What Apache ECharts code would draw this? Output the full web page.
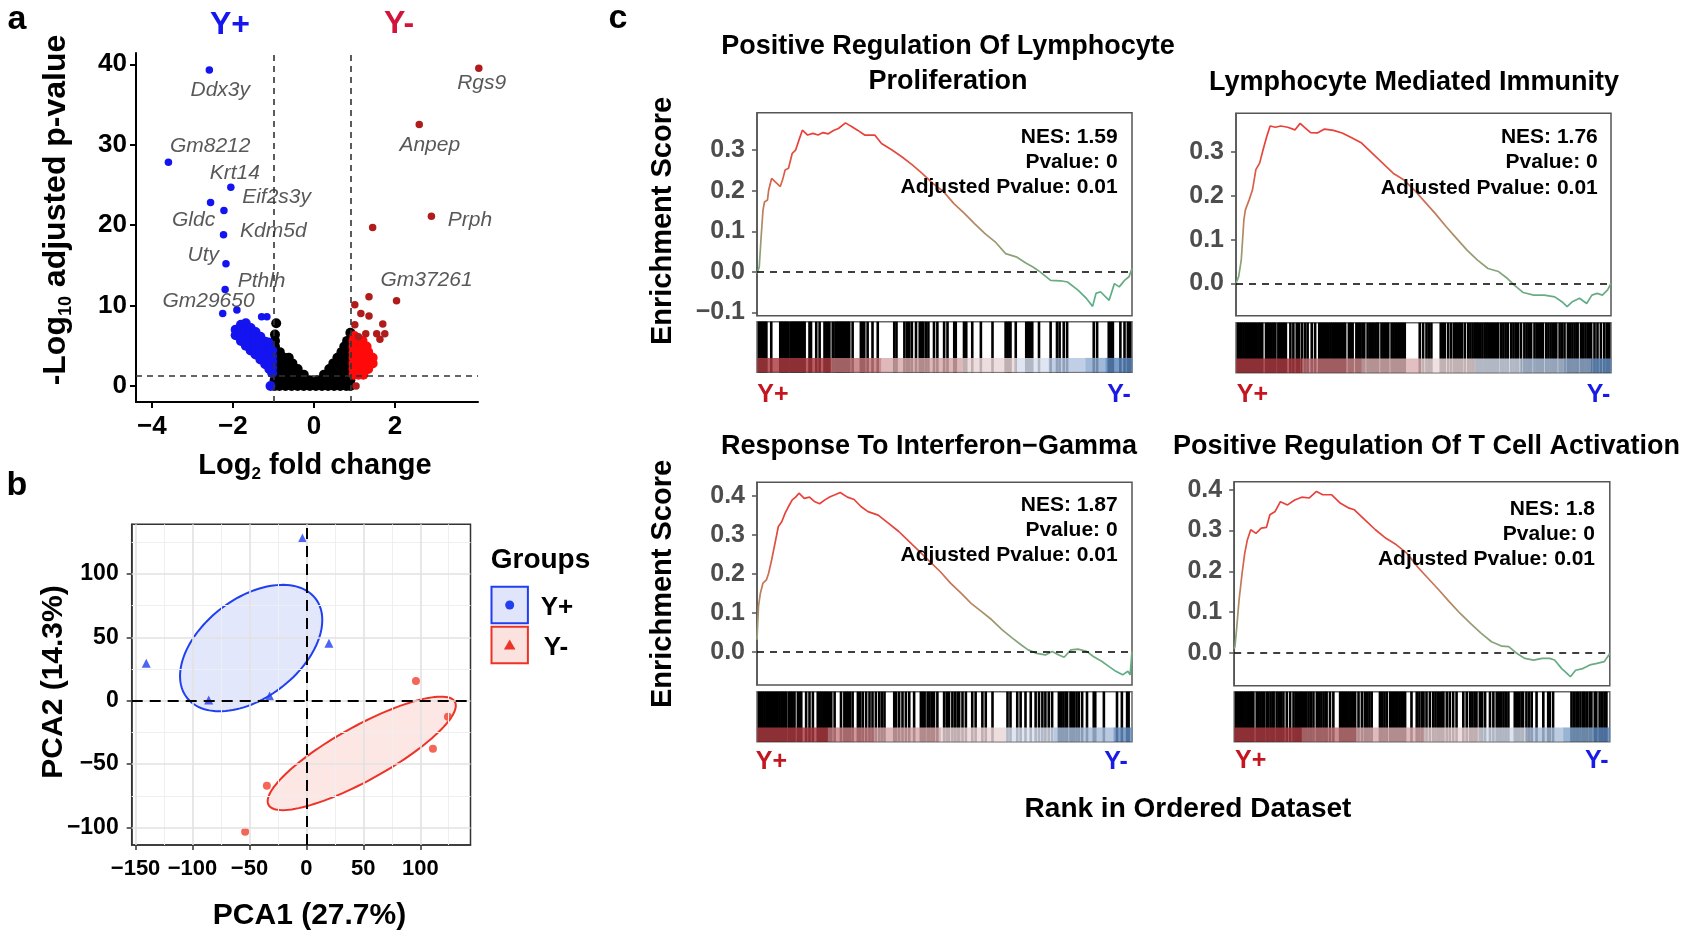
<!DOCTYPE html>
<html><head><meta charset="utf-8">
<script src="https://cdn.jsdelivr.net/npm/echarts@6/dist/echarts.min.js"></script>
<style>html,body{margin:0;padding:0;background:#fff}#c{width:1691px;height:938px}</style>
</head><body><div id="c"></div>
<script>
const FONT = '"Liberation Sans", Arial, Helvetica, sans-serif';

// ---------------- Panel a : volcano ----------------
const volcanoXTicks = [-4, -2, 0, 2];
const volcanoYTicks = [0, 10, 20, 30, 40];
const fcCutLeft = -1.0, fcCutRight = 0.92, padjCut = 1.3;
const volcanoNS = [
 [-0.97,0],[-0.85,0],[-0.7,0],[-0.55,0],[-0.4,0],[-0.25,0],[-0.1,0],[0.05,0],[0.2,0],[0.35,0],[0.5,0],[0.65,0],[0.8,0],[0.9,0],
 [-0.97,0.7],[-0.85,0.7],[-0.7,0.7],[-0.55,0.7],[-0.4,0.7],[-0.25,0.7],[-0.1,0.7],[0.1,0.7],[0.25,0.7],[0.4,0.7],[0.55,0.7],[0.7,0.7],[0.82,0.7],[0.9,0.7],
 [-0.97,1.4],[-0.85,1.4],[-0.7,1.4],[-0.55,1.4],[-0.4,1.4],[-0.25,1.4],[0.25,1.4],[0.4,1.4],[0.55,1.4],[0.7,1.4],[0.82,1.4],[0.9,1.4],
 [-0.97,2.1],[-0.85,2.1],[-0.7,2.1],[-0.55,2.1],[-0.4,2.1],[0.38,2.1],[0.52,2.1],[0.66,2.1],[0.8,2.1],[0.9,2.1],
 [-0.97,2.8],[-0.85,2.8],[-0.7,2.8],[-0.53,2.8],[0.48,2.8],[0.62,2.8],[0.76,2.8],[0.9,2.8],
 [-0.97,3.5],[-0.86,3.5],[-0.73,3.5],[-0.62,3.5],[0.58,3.5],[0.72,3.5],[0.86,3.5],
 [-0.96,4.2],[-0.84,4.2],[0.68,4.2],[0.8,4.2],[0.9,4.2],
 [-0.96,4.9],[0.75,4.9],[0.88,4.9],
 [-0.96,5.6],[0.82,5.6],[0.9,5.6],
 [-0.96,6.4],[-0.93,7.8],[0.9,6.6]
];
const volcanoUpCloud = [
 [-1.93,6.3],[-1.93,7.0],
 [-1.8,5.6],[-1.8,6.3],[-1.8,7.0],[-1.8,7.6],
 [-1.68,5.0],[-1.68,5.7],[-1.68,6.4],[-1.68,7.1],[-1.68,7.8],
 [-1.56,4.4],[-1.56,5.1],[-1.56,5.8],[-1.56,6.5],[-1.56,7.2],
 [-1.44,3.9],[-1.44,4.6],[-1.44,5.3],[-1.44,6.0],[-1.44,6.7],
 [-1.32,3.3],[-1.32,4.0],[-1.32,4.7],[-1.32,5.4],[-1.32,6.1],
 [-1.2,2.7],[-1.2,3.4],[-1.2,4.1],[-1.2,4.8],[-1.2,5.5],
 [-1.1,2.1],[-1.1,2.8],[-1.1,3.5],[-1.1,4.2],[-1.1,4.9],
 [-1.03,1.6],[-1.03,2.3],[-1.03,3.0],[-1.03,3.7],[-1.03,4.4],
 [-1.07,0],[-1.12,5.4]
];
const volcanoUpTop = [[-2.58,39.3],[-3.59,27.8],[-2.05,24.7],[-2.55,22.8],[-2.22,21.8],[-2.23,18.8],[-2.17,15.2],[-2.19,12.0],[-2.25,9.0],[-1.90,9.45],[-1.29,8.6],[-1.16,8.6]];
const volcanoDownCloud = [
 [0.98,1.4],[1.1,1.4],[1.22,1.4],
 [0.98,2.1],[1.1,2.1],[1.22,2.1],[1.34,2.1],
 [0.98,2.8],[1.1,2.8],[1.22,2.8],[1.34,2.8],[1.45,2.8],
 [0.98,3.5],[1.1,3.5],[1.22,3.5],[1.34,3.5],[1.45,3.5],
 [0.98,4.2],[1.1,4.2],[1.22,4.2],[1.34,4.2],
 [0.98,4.9],[1.1,4.9],[1.22,4.9],[1.3,4.9],
 [0.98,5.6],[1.1,5.6],[1.2,5.6],
 [1.0,6.2]
];
const volcanoDownTop = [[4.07,39.5],[2.60,32.5],[2.90,21.1],[1.45,19.7],[2.04,10.6],[1.36,11.1],[1.01,10.1],[1.16,9.0],[1.36,8.7],[1.01,7.6],[1.70,7.7],[1.55,6.5],[1.75,6.5],[1.63,5.8],[1.28,6.5],[1.10,6.1],[1.04,0]];
const volcanoGeneLabels = [[-2.31,36.8,'Ddx3y'],[-2.56,29.8,'Gm8212'],[-1.95,26.5,'Krt14'],[-0.92,23.5,'Eif2s3y'],[-2.97,20.6,'Gldc'],[-1.0,19.2,'Kdm5d'],[-2.73,16.3,'Uty'],[-1.29,13.0,'Pthlh'],[-2.60,10.5,'Gm29650'],[4.14,37.7,'Rgs9'],[2.86,30.0,'Anpep'],[3.85,20.6,'Prph'],[2.78,13.1,'Gm37261']];

// ---------------- Panel b : PCA ----------------
const pcaXTicks = [-150, -100, -50, 0, 50, 100];
const pcaYTicks = [-100, -50, 0, 50, 100];
const pcaXMinor = [-125, -75, -25, 25, 75, 125];
const pcaYMinor = [-75, -25, 25, 75, 125];
const pcaYplus = [[-3.5,128.2],[19.8,45.3],[-140.6,29.5],[-85.8,0.5],[-32.3,3.7]];
const pcaYminus = [[96.2,15.5],[124.3,-12.6],[111.1,-37.9],[-34.7,-67.1],[-53.8,-103.4]];
const ellipseYplus = [-48.5, 41.5, 3900, 1381, 2485];   // cx, cy, var x, cov xy, var y
const ellipseYminus = [48.6, -41.55, 6823, 3110, 2003];

// ---------------- Panel c : GSEA ----------------
const gseaTitles = [['Positive Regulation Of Lymphocyte','Proliferation'],['Lymphocyte Mediated Immunity'],['Response To Interferon\u2212Gamma'],['Positive Regulation Of T Cell Activation']];
const gseaNES = ['1.59','1.76','1.87','1.8'];
const gseaPvalue = ['0','0','0','0'];
const gseaAdjPvalue = ['0.01','0.01','0.01','0.01'];
const esTicks = [[-0.1,0,0.1,0.2,0.3],[0,0.1,0.2,0.3],[0,0.1,0.2,0.3,0.4],[0,0.1,0.2,0.3,0.4]];

const gseaES1 = [[0,-0.004],[6,0.012],[11,0.086],[16,0.152],[20,0.172],[28,0.177],[31,0.201],[39,0.230],[48,0.222],[62,0.21],[68,0.226],[75,0.251],[84,0.255],[94,0.292],[103,0.30],[112,0.325],[121,0.349],[135,0.337],[149,0.341],[163,0.337],[176,0.343],[190,0.340],[204,0.348],[217,0.353],[236,0.367],[250,0.359],[268,0.349],[287,0.337],[314,0.337],[332,0.316],[360,0.30],[387,0.283],[415,0.263],[441,0.242],[469,0.218],[498,0.197],[525,0.168],[553,0.144],[580,0.119],[608,0.094],[635,0.074],[663,0.045],[691,0.037],[718,0.021],[736,0.012],[755,0.0],[783,-0.021],[810,-0.022],[828,-0.025],[856,-0.045],[879,-0.066],[895,-0.085],[904,-0.053],[916,-0.049],[939,-0.07],[953,-0.029],[966,-0.037],[980,-0.021],[992,-0.012],[1000,0.008]];
const gseaES2 = [[0,0],[7,0.015],[14,0.053],[21,0.145],[25,0.168],[35,0.191],[44,0.214],[53,0.26],[63,0.275],[72,0.305],[82,0.336],[91,0.36],[105,0.357],[119,0.36],[138,0.357],[157,0.351],[171,0.366],[185,0.355],[199,0.345],[217,0.344],[236,0.353],[260,0.35],[283,0.344],[306,0.334],[335,0.321],[363,0.298],[391,0.275],[419,0.252],[447,0.237],[475,0.214],[503,0.187],[531,0.160],[560,0.130],[588,0.103],[616,0.076],[644,0.053],[672,0.034],[700,0.027],[724,0.011],[742,-0.004],[766,-0.021],[794,-0.027],[822,-0.027],[850,-0.031],[869,-0.042],[883,-0.053],[897,-0.042],[916,-0.034],[935,-0.046],[949,-0.027],[963,-0.023],[977,-0.027],[991,-0.015],[1000,0.0]];
const gseaES3 = [[0,0.032],[4,0.117],[9,0.151],[16,0.177],[25,0.185],[31,0.202],[39,0.236],[48,0.279],[57,0.322],[66,0.334],[75,0.356],[84,0.373],[94,0.39],[103,0.397],[112,0.407],[126,0.394],[140,0.397],[153,0.386],[167,0.380],[181,0.39],[195,0.398],[208,0.403],[222,0.409],[241,0.397],[259,0.391],[277,0.373],[296,0.36],[323,0.351],[351,0.33],[378,0.309],[406,0.283],[433,0.258],[461,0.232],[489,0.206],[516,0.177],[544,0.151],[571,0.125],[599,0.104],[626,0.083],[654,0.057],[681,0.036],[704,0.019],[723,0.006],[746,-0.003],[769,-0.007],[787,0.002],[805,-0.007],[819,-0.013],[837,0.006],[856,0.008],[879,0.002],[897,-0.011],[920,-0.024],[939,-0.037],[957,-0.049],[975,-0.058],[989,-0.049],[995,-0.058],[1000,0.002]];
const gseaES4 = [[0,0.01],[2,0.015],[7,0.064],[13,0.13],[21,0.195],[28,0.244],[35,0.277],[44,0.302],[58,0.293],[72,0.306],[86,0.308],[95,0.339],[109,0.347],[123,0.371],[142,0.363],[161,0.375],[180,0.382],[200,0.38],[219,0.396],[236,0.388],[259,0.388],[283,0.367],[306,0.355],[320,0.351],[348,0.326],[376,0.302],[404,0.281],[432,0.265],[460,0.244],[488,0.211],[516,0.183],[545,0.154],[573,0.125],[601,0.097],[629,0.072],[657,0.048],[685,0.027],[713,0.016],[731,0.015],[750,0.0],[774,-0.014],[797,-0.018],[820,-0.014],[840,-0.014],[853,-0.018],[872,-0.039],[886,-0.051],[895,-0.059],[909,-0.043],[928,-0.039],[947,-0.03],[966,-0.026],[985,-0.022],[1000,-0.002]];

const gseaHits1 = [5,9,13,17,21,25,38,62,66,70,74,78,82,89,93,97,101,105,109,113,117,121,125,127,140,144,158,167,180,185,189,193,202,209,213,217,221,225,229,233,238,242,246,255,277,281,286,295,308,322,366,372,393,400,406,413,424,434,439,443,450,457,472,481,499,508,526,530,552,558,574,597,628,663,668,673,676,690,718,723,728,734,752,783,800,807,818,827,898,907,938,944,949,969,980,989,995];
const gseaHits2 = [5,10,15,20,25,30,35,40,45,50,55,60,65,70,80,85,90,95,100,105,113,118,123,128,133,145,153,162,168,176,184,191,202,211,222,227,232,237,242,247,252,257,262,267,272,277,282,287,291,301,306,311,321,326,331,337,342,351,357,362,367,372,377,379,388,393,398,403,406,415,420,425,430,435,440,445,450,490,499,508,514,521,546,552,557,566,574,582,587,592,597,602,610,619,625,631,637,641,645,651,657,663,668,673,678,683,688,694,699,707,713,719,725,734,740,746,752,760,769,775,781,787,796,802,808,814,818,827,833,839,845,851,854,863,869,876,885,891,897,903,909,911,920,926,932,938,944,947,956,964,973,982,989,995];
const gseaHits3 = [5,10,15,20,25,30,35,40,45,50,55,60,65,69,74,78,85,90,95,100,109,115,118,131,140,149,162,167,172,177,182,187,192,198,207,224,233,238,243,248,255,269,275,282,291,300,308,317,326,333,340,366,371,379,388,397,406,419,437,442,447,455,460,466,472,481,499,506,512,521,528,535,539,548,557,574,583,601,610,628,668,676,694,703,716,730,743,752,761,769,778,787,805,811,817,823,827,836,840,845,852,858,867,880,898,902,925,960,973,987,991];
const gseaHits4 = [5,10,15,20,25,30,35,40,45,47,51,60,65,70,75,80,87,91,97,103,105,113,119,125,131,140,149,158,164,170,176,180,186,192,198,204,211,220,226,232,238,244,246,255,264,282,287,292,297,302,307,312,317,322,331,340,348,354,360,366,388,394,400,406,415,420,425,430,435,440,445,450,455,472,486,493,500,504,512,521,530,536,542,548,554,557,566,574,583,592,610,619,628,634,640,645,654,660,668,681,690,699,705,711,717,723,730,747,753,759,765,769,778,785,792,805,823,836,840,849,898,904,911,916,922,929,933,940,947,951,960,964,973,980,986,991];

// ranked-list metric strips: [startRank, endRank, metric]
const gseaRank1 = [[0,198,0.9],[198,331,0.6],[331,548,0.35],[548,690,0.12],[690,778,-0.1],[778,876,-0.3],[876,929,-0.5],[929,1000,-0.75]];
const gseaRank2 = [[0,176,0.9],[176,295,0.62],[295,335,0.5],[335,495,0.3],[495,637,0.1],[637,761,-0.1],[761,876,-0.28],[876,947,-0.45],[947,1000,-0.7]];
const gseaRank3 = [[0,189,0.9],[189,313,0.55],[313,490,0.35],[490,663,0.12],[663,792,-0.1],[792,951,-0.35],[951,1000,-0.7]];
const gseaRank4 = [[0,180,0.9],[180,326,0.6],[326,504,0.33],[504,654,0.12],[654,778,-0.12],[778,876,-0.33],[876,956,-0.55],[956,1000,-0.75]];

// ---------------- build ----------------
const minusFmt = d => v => (v < 0 ? '\u2212' : '') + Math.abs(v).toFixed(d);
const grids = [], xAxes = [], yAxes = [], series = [], visualMaps = [], graphics = [];

function valAxis(gi, min, max, ticks, opts) {
  opts = opts || {};
  return {
    type: 'value', gridIndex: gi, min: min, max: max,
    axisLine: {show: true, onZero: false, lineStyle: {color: opts.lineColor || '#000', width: opts.lineWidth || 2}},
    axisTick: {show: true, length: opts.tickLen || 6, customValues: ticks, lineStyle: {color: opts.tickColor || '#000', width: opts.tickWidth || 2}},
    axisLabel: {show: true, customValues: ticks, formatter: minusFmt(opts.dec || 0), fontFamily: FONT, fontWeight: 'bold',
      fontSize: opts.fontSize || 24, color: opts.labelColor || '#000', margin: opts.margin || 10},
    splitLine: {show: false}
  };
}

// ---- volcano
grids.push({left: 136, top: 53, width: 342, height: 349});
xAxes.push(valAxis(0, -4.39, 4.05, volcanoXTicks, {fontSize: 26, margin: 12, tickLen: 6}));
yAxes.push(valAxis(0, -2, 41.4, volcanoYTicks, {fontSize: 26, margin: 9, tickLen: 6}));
series.push({type: 'scatter', xAxisIndex: 0, yAxisIndex: 0, data: [], z: 1, silent: true,
  markLine: {silent: true, symbol: 'none', label: {show: false},
    lineStyle: {type: [6, 5], color: '#333', width: 1.6},
    data: [{xAxis: fcCutLeft}, {xAxis: fcCutRight}, {yAxis: padjCut}]}});
const volStyle = (data, color, size, z) => ({type: 'scatter', xAxisIndex: 0, yAxisIndex: 0, data: data, symbolSize: size,
  itemStyle: {color: color, opacity: 1}, z: z, clip: false, silent: true});
series.push(volStyle(volcanoNS, '#000000', 10, 2));
series.push(volStyle(volcanoUpCloud, '#1414f0', 10, 3));
series.push(volStyle(volcanoUpTop, '#1414f0', 7.5, 3));
series.push(volStyle(volcanoDownCloud, '#ff0a0a', 10, 3));
series.push(volStyle(volcanoDownTop, '#b01c1c', 7.5, 4));
series.push({type: 'scatter', xAxisIndex: 0, yAxisIndex: 0, data: volcanoGeneLabels, symbolSize: 1, clip: false, silent: true, z: 5,
  itemStyle: {color: 'rgba(0,0,0,0)'},
  label: {show: true, position: 'inside', formatter: p => p.data[2], fontFamily: FONT, fontStyle: 'italic', fontSize: 21, color: '#2e2e2e'}});

// ---- PCA
grids.push({left: 131.7, top: 524.3, width: 338.8, height: 320.7, show: true, borderColor: '#333', borderWidth: 1.5, backgroundColor: 'transparent'});
xAxes.push(valAxis(1, -153.4, 144.1, pcaXTicks, {fontSize: 22, margin: 13, tickLen: 5, lineWidth: 1.5, lineColor: '#333', tickColor: '#333', tickWidth: 1.5}));
yAxes.push(valAxis(1, -113.8, 139.1, pcaYTicks, {fontSize: 23, margin: 13, tickLen: 5, lineWidth: 1.5, lineColor: '#333', tickColor: '#333', tickWidth: 1.5}));
const gl = [];
pcaXMinor.forEach(v => gl.push({xAxis: v, lineStyle: {color: '#efefef', width: 1, type: 'solid'}}));
pcaYMinor.forEach(v => gl.push({yAxis: v, lineStyle: {color: '#efefef', width: 1, type: 'solid'}}));
pcaXTicks.forEach(v => gl.push({xAxis: v, lineStyle: {color: '#e2e2e2', width: 1.6, type: 'solid'}}));
pcaYTicks.forEach(v => gl.push({yAxis: v, lineStyle: {color: '#e2e2e2', width: 1.6, type: 'solid'}}));
series.push({type: 'scatter', xAxisIndex: 1, yAxisIndex: 1, data: [], z: 0, silent: true,
  markLine: {silent: true, symbol: 'none', label: {show: false}, data: gl}});
function ellipseSeries(par, fill, stroke) {
  return {type: 'custom', xAxisIndex: 1, yAxisIndex: 1, data: [par], z: 1, silent: true, clip: false,
    renderItem: function (params, api) {
      const cx = api.value(0), cy = api.value(1), a = api.value(2), b = api.value(3), c = api.value(4);
      const l11 = Math.sqrt(a), l21 = b / l11, l22 = Math.sqrt(c - l21 * l21);
      const pts = [];
      for (let i = 0; i < 120; i++) {
        const t = i / 120 * Math.PI * 2, u = Math.cos(t), w = Math.sin(t);
        pts.push(api.coord([cx + l11 * u, cy + l21 * u + l22 * w]));
      }
      return {type: 'polygon', shape: {points: pts}, style: {fill: fill, stroke: stroke, lineWidth: 2}};
    }};
}
series.push(ellipseSeries(ellipseYplus, 'rgba(40,70,235,0.13)', '#1f3ff0'));
series.push(ellipseSeries(ellipseYminus, 'rgba(240,70,50,0.13)', '#ee3326'));
series.push({type: 'scatter', xAxisIndex: 1, yAxisIndex: 1, data: [], z: 2, silent: true,
  markLine: {silent: true, symbol: 'none', label: {show: false}, lineStyle: {type: [11, 7], color: '#000', width: 2},
    data: [{xAxis: 0}, {yAxis: 0}]}});
series.push({type: 'scatter', xAxisIndex: 1, yAxisIndex: 1, data: pcaYplus, symbol: 'triangle', symbolSize: 9, itemStyle: {color: '#1f3ff0'}, z: 3, silent: true});
series.push({type: 'scatter', xAxisIndex: 1, yAxisIndex: 1, data: pcaYminus, symbol: 'circle', symbolSize: 8, itemStyle: {color: '#f0402e'}, z: 3, silent: true});

// ---- GSEA
const esGridPos = [{left: 757, top: 112.7, width: 375, height: 203}, {left: 1236, top: 113.3, width: 375, height: 202.4},
  {left: 757, top: 482.3, width: 375, height: 202.7}, {left: 1234.2, top: 481.7, width: 375.6, height: 204}];
const esRange = [[-0.108, 0.392], [-0.074, 0.389], [-0.084, 0.435], [-0.081, 0.42]];
const bcGridPos = [{left: 757, top: 321.7, width: 375, height: 50.6}, {left: 1236, top: 322.7, width: 375, height: 50},
  {left: 757, top: 691.7, width: 375, height: 50}, {left: 1234.2, top: 691.7, width: 375.6, height: 50}];
const esData = [gseaES1, gseaES2, gseaES3, gseaES4];
const hitData = [gseaHits1, gseaHits2, gseaHits3, gseaHits4];
const rankData = [gseaRank1, gseaRank2, gseaRank3, gseaRank4];

function colorFor(v) {
  const lerp = (a, b, t) => a.map((x, i) => Math.round(x + (b[i] - x) * t));
  const c = v >= 0 ? lerp([244, 238, 238], [163, 38, 46], Math.min(1, v)) : lerp([236, 239, 246], [42, 100, 168], Math.min(1, -v));
  return 'rgb(' + c.join(',') + ')';
}

for (let k = 0; k < 4; k++) {
  const gi = 2 + k;
  grids.push(Object.assign({show: true, borderColor: '#555', borderWidth: 1.5, backgroundColor: 'transparent'}, esGridPos[k]));
  xAxes.push({type: 'value', gridIndex: gi, min: 0, max: 1000, show: false});
  yAxes.push(valAxis(gi, esRange[k][0], esRange[k][1], esTicks[k], {dec: 1, fontSize: 25, labelColor: '#4d4d4d', margin: 12, tickLen: 5,
    lineColor: '#555', lineWidth: 1.5, tickColor: '#555', tickWidth: 1.5}));
  const si = series.length;
  series.push({type: 'line', xAxisIndex: gi, yAxisIndex: gi, data: esData[k], showSymbol: false, symbol: 'none', silent: true,
    lineStyle: {width: 1.7}, z: 3,
    markLine: {silent: true, symbol: 'none', label: {show: false}, lineStyle: {type: [7, 6], color: '#000', width: 1.6}, data: [{yAxis: 0}]}});
  visualMaps.push({type: 'continuous', show: false, seriesIndex: si, dimension: 1, min: -0.05, max: 0.32,
    inRange: {color: ['#5dae86', '#8ea276', '#b8845f', '#d8614a', '#e9403a']}});
}
for (let k = 0; k < 4; k++) {
  const gi = 6 + k;
  grids.push(Object.assign({show: true, borderColor: '#666', borderWidth: 1.5, backgroundColor: 'transparent'}, bcGridPos[k]));
  xAxes.push({type: 'value', gridIndex: gi, min: 0, max: 1000, show: false});
  yAxes.push({type: 'value', gridIndex: gi, min: 0, max: 1, show: false});
  series.push({type: 'custom', xAxisIndex: gi, yAxisIndex: gi, data: hitData[k].map(r => [r]), encode: {x: 0}, z: 2, silent: true,
    renderItem: function (params, api) {
      const r = api.value(0), p0 = api.coord([r, 0]), p1 = api.coord([r, 1]);
      return {type: 'rect', shape: {x: p0[0] - 1.3, y: p1[1], width: 2.6, height: p0[1] - p1[1]}, style: {fill: '#000'}};
    }});
  series.push({type: 'custom', xAxisIndex: gi, yAxisIndex: gi, data: rankData[k], encode: {x: [0, 1]}, z: 3, silent: true,
    renderItem: function (params, api) {
      const a = api.coord([api.value(0), 0]), b = api.coord([api.value(1), 0.285]);
      return {type: 'rect', shape: {x: a[0], y: b[1], width: b[0] - a[0] + 0.3, height: a[1] - b[1]},
        style: {fill: colorFor(api.value(2)), opacity: 0.82}};
    }});
}

// ---- texts
function txt(x, y, text, size, opts) {
  opts = opts || {};
  return {type: 'text', x: x, y: y, rotation: opts.rot || 0, z: 20, silent: true,
    style: {text: text, fontFamily: FONT, fontSize: size, fontWeight: opts.weight || 'bold', fontStyle: opts.style || 'normal',
      fill: opts.color || '#000', align: opts.align || 'center', verticalAlign: opts.valign || 'middle', rich: opts.rich}};
}
graphics.push(txt(17, 20, 'a', 34), txt(17, 486, 'b', 34), txt(618, 19, 'c', 34));
graphics.push(txt(230, 25, 'Y+', 32, {color: '#1616ee'}), txt(399, 24, 'Y-', 32, {color: '#d2143c'}));
graphics.push(txt(56, 210, '{b|-Log}{s|10}{b| adjusted p-value}', 32, {rot: Math.PI / 2,
  rich: {b: {fontSize: 32, fontWeight: 'bold', fontFamily: FONT, lineHeight: 38, fill: '#000'}, s: {fontSize: 18, fontWeight: 'bold', fontFamily: FONT, lineHeight: 38, verticalAlign: 'bottom', fill: '#000'}}}));
graphics.push(txt(315, 466, '{b|Log}{s|2}{b| fold change}', 29, {
  rich: {b: {fontSize: 29, fontWeight: 'bold', fontFamily: FONT, lineHeight: 34, fill: '#000'}, s: {fontSize: 17, fontWeight: 'bold', fontFamily: FONT, lineHeight: 34, verticalAlign: 'bottom', fill: '#000'}}}));
graphics.push(txt(54, 682, 'PCA2 (14.3%)', 30, {rot: Math.PI / 2}), txt(309.5, 916, 'PCA1 (27.7%)', 30));
graphics.push(txt(490.7, 560, 'Groups', 28, {align: 'left'}));
graphics.push({type: 'rect', z: 20, silent: true, shape: {x: 491.5, y: 586.7, width: 36.4, height: 36.6}, style: {fill: '#e0e5fb', stroke: '#1f3ff0', lineWidth: 2}});
graphics.push({type: 'rect', z: 20, silent: true, shape: {x: 491.5, y: 626.7, width: 36.4, height: 36.6}, style: {fill: '#fbe2de', stroke: '#ee3326', lineWidth: 2}});
graphics.push({type: 'circle', z: 21, silent: true, shape: {cx: 509.7, cy: 605, r: 4.5}, style: {fill: '#1f3ff0'}});
graphics.push({type: 'polygon', z: 21, silent: true, shape: {points: [[509.7, 639.5], [515.5, 649.5], [503.9, 649.5]]}, style: {fill: '#ee3326'}});
graphics.push(txt(557, 608, 'Y+', 26), txt(556, 648, 'Y-', 26));

const titlePos = [[[948, 47], [948, 82]], [[1414, 83]], [[929, 447]], [[1426.5, 447]]];
gseaTitles.forEach((lines, k) => lines.forEach((t, j) => graphics.push(txt(titlePos[k][j][0], titlePos[k][j][1], t, 27))));
graphics.push(txt(663, 221, 'Enrichment Score', 29, {rot: Math.PI / 2}), txt(663, 584, 'Enrichment Score', 29, {rot: Math.PI / 2}));
graphics.push(txt(1188, 809, 'Rank in Ordered Dataset', 28));
const annPos = [[1117.6, [137.3, 162.7, 187.3]], [1597.8, [137.3, 162.7, 188.3]], [1117.6, [505, 530, 555]], [1595, [509.3, 534, 559.3]]];
for (let k = 0; k < 4; k++) {
  const lines = ['NES: ' + gseaNES[k], 'Pvalue: ' + gseaPvalue[k], 'Adjusted Pvalue: ' + gseaAdjPvalue[k]];
  lines.forEach((t, j) => graphics.push(txt(annPos[k][0], annPos[k][1][j], t, 21, {align: 'right'})));
}
const ypPos = [[773, 1119, 395], [1252.4, 1598.5, 395], [771.5, 1116, 761.7], [1250.7, 1596.8, 760.7]];
ypPos.forEach(p => graphics.push(txt(p[0], p[2], 'Y+', 25, {color: '#c4161f'}), txt(p[1], p[2], 'Y-', 25, {color: '#1a1ae6'})));

const chart = echarts.init(document.getElementById('c'), null, {width: 1691, height: 938});
chart.setOption({
  animation: false, backgroundColor: '#fff',
  grid: grids, xAxis: xAxes, yAxis: yAxes, series: series, visualMap: visualMaps, graphic: graphics
});
</script></body></html>
